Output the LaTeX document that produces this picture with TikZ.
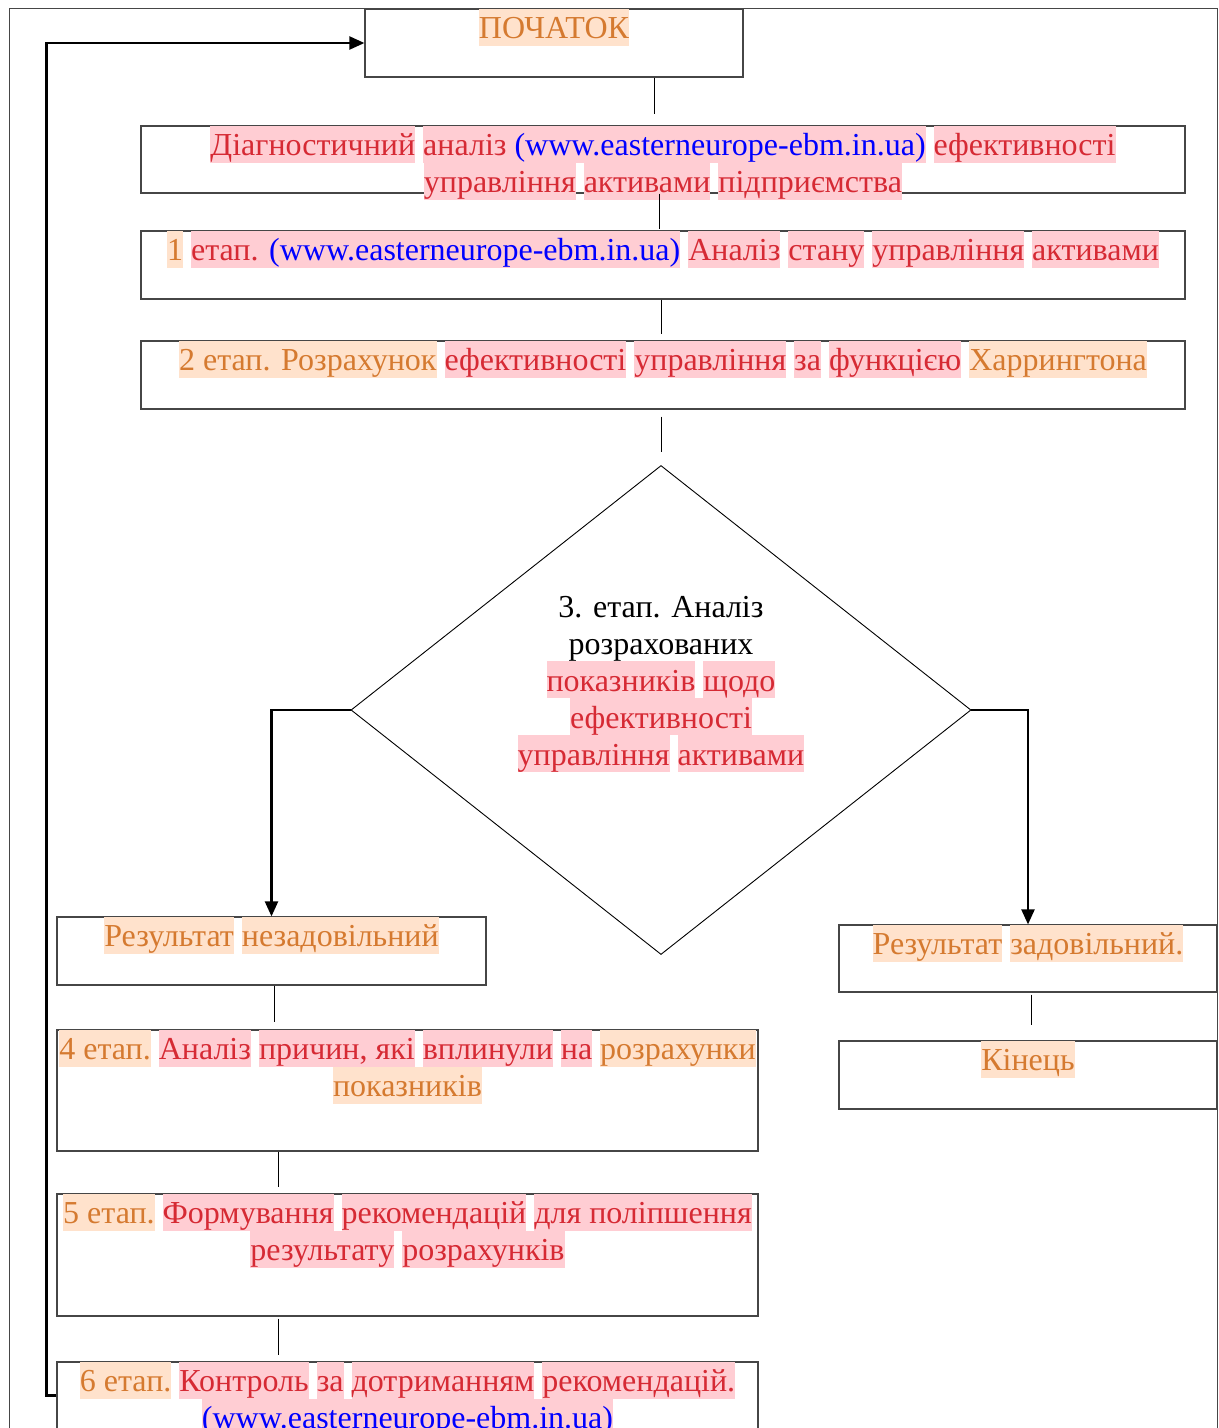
\documentclass[tikz,border=0pt]{standalone}
\usepackage{fontspec}
\setmainfont{Liberation Serif}
\usetikzlibrary{arrows.meta,shapes.geometric}

\definecolor{peach}{RGB}{255,226,204}
\definecolor{pinkhl}{RGB}{255,205,211}
\definecolor{orangetxt}{RGB}{213,122,48}
\definecolor{redtxt}{RGB}{214,42,52}
\definecolor{bluetxt}{RGB}{0,0,255}
\definecolor{boxgray}{RGB}{70,70,70}

% surlignage des mots (comme dans Word)
\newcommand{\hlstrut}{\rule[-7pt]{0pt}{37pt}}
\newcommand{\hlo}[1]{{\setlength{\fboxsep}{0pt}\colorbox{peach}{\hlstrut\textcolor{orangetxt}{#1}}}}
\newcommand{\hlr}[1]{{\setlength{\fboxsep}{0pt}\colorbox{pinkhl}{\hlstrut\textcolor{redtxt}{#1}}}}
\newcommand{\lnk}[1]{\textcolor{bluetxt}{#1}}

\begin{document}
\begin{tikzpicture}[x=1pt,y=-1pt,
    box/.style={draw=boxgray,line width=1.2pt,inner sep=0pt},
    txt/.style={anchor=north,inner sep=0pt,align=center,font=\fontsize{32}{37}\selectfont},
    link/.style={line width=1pt},
    arrow/.style={line width=2.2pt,-{Triangle[length=15pt,width=13pt]}}]
   \path[use as bounding box] (0,0) rectangle (1219,1428);
   \clip (0,0) rectangle (1219,1428);
   \draw[boxgray,line width=1pt] (9,1500) |- (1217,8) -- (1217,1500);
   % blocs
   \node[box,minimum width=378,minimum height=68] (start) at (554,43) {};
   \node[box,minimum width=1044,minimum height=67] (diag) at (663,159.5) {};
   \node[box,minimum width=1044,minimum height=68] (s1) at (663,265) {};
   \node[box,minimum width=1044,minimum height=68] (s2) at (663,375) {};
   \node[draw,diamond,line width=0.9pt,inner sep=0pt,minimum width=620,minimum height=489] (dec) at (661,710) {};
   \node[box,minimum width=429,minimum height=68] (bad) at (271.5,951) {};
   \node[box,minimum width=701,minimum height=121] (s4) at (407.5,1090.5) {};
   \node[box,minimum width=701,minimum height=122] (s5) at (407.5,1255) {};
   \node[box,minimum width=701,minimum height=121] (s6) at (407.5,1422.5) {};
   \node[box,minimum width=378,minimum height=67] (good) at (1028,958.5) {};
   \node[box,minimum width=378,minimum height=68] (fin) at (1028,1075) {};
   % textes
   \node[txt] (start-t) at (start.north) {\hlo{ПОЧАТОК}};
   \node[txt] (diag-t) at (diag.north) {\hlr{Діагностичний} \hlr{аналіз \lnk{(www.easterneurope-ebm.in.ua)}} \hlr{ефективності}\\
     \hlr{управління} \hlr{активами} \hlr{підприємства}};
   \node[txt] (s1-t) at (s1.north) {\hlo{1} \hlr{етап. \lnk{(www.easterneurope-ebm.in.ua)}} \hlr{Аналіз} \hlr{стану} \hlr{управління} \hlr{активами}};
   \node[txt] (s2-t) at (s2.north) {\hlo{2 етап. Розрахунок} \hlr{ефективності} \hlr{управління} \hlr{за} \hlr{функцією} \hlo{Харрингтона}};
   \node[txt] (dec-t) at (661,587) {{\hlstrut}3. етап. Аналіз\\{\hlstrut}розрахованих\\
     \hlr{показників} \hlr{щодо}\\ \hlr{ефективності}\\ \hlr{управління} \hlr{активами}};
   \node[txt] (bad-t) at (bad.north) {\hlo{Результат} \hlo{незадовільний}};
   \node[txt] (s4-t) at (s4.north) {\hlo{4 етап.} \hlr{Аналіз} \hlr{причин, які} \hlr{вплинули} \hlr{на} \hlo{розрахунки}\\ \hlo{показників}};
   \node[txt] (s5-t) at (s5.north) {\hlo{5 етап.} \hlr{Формування} \hlr{рекомендацій} \hlr{для поліпшення}\\
     \hlr{результату} \hlr{розрахунків}};
   \node[txt] (s6-t) at (s6.north) {\hlo{6 етап.} \hlr{Контроль} \hlr{за} \hlr{дотриманням} \hlr{рекомендацій.}\\
     \hlr{\lnk{(www.easterneurope-ebm.in.ua)}}};
   \node[txt] (good-t) at (good.north) {\hlo{Результат} \hlo{задовільний.}};
   \node[txt] (fin-t) at (fin.north) {\hlo{Кінець}};
   % liaisons
   \draw[link,shorten >=11pt] ([xshift=100pt]start.south) -- ([xshift=-9pt]diag.north);
   \draw[link,shorten >=1pt] ([xshift=-4pt]diag.south) -- ([xshift=-4pt]s1.north);
   \draw[link,shorten >=6pt] ([xshift=-2pt]s1.south) -- ([xshift=-2pt]s2.north);
   \draw[link,shorten <=7pt,shorten >=13pt] ([xshift=-2pt]s2.south) -- (dec.north);
   \draw[arrow] (dec.west) -| (bad.north);
   \draw[arrow] (dec.east) -| (good.north);
   \draw[link,shorten >=7pt] ([xshift=2.5pt]bad.south) -- ([xshift=-133.5pt]s4.north);
   \draw[link,shorten >=6pt] ([xshift=-129.5pt]s4.south) -- ([xshift=-129.5pt]s5.north);
   \draw[link,shorten <=2pt,shorten >=6pt] ([xshift=-129.5pt]s5.south) -- ([xshift=-129.5pt]s6.north);
   \draw[link,shorten <=2pt,shorten >=15pt] ([xshift=3pt]good.south) -- ([xshift=3pt]fin.north);
   % retour au debut
   \draw[arrow] ([yshift=27pt]s6.west) -- ++(-10,0) |- (start.west);
\end{tikzpicture}
\end{document}
